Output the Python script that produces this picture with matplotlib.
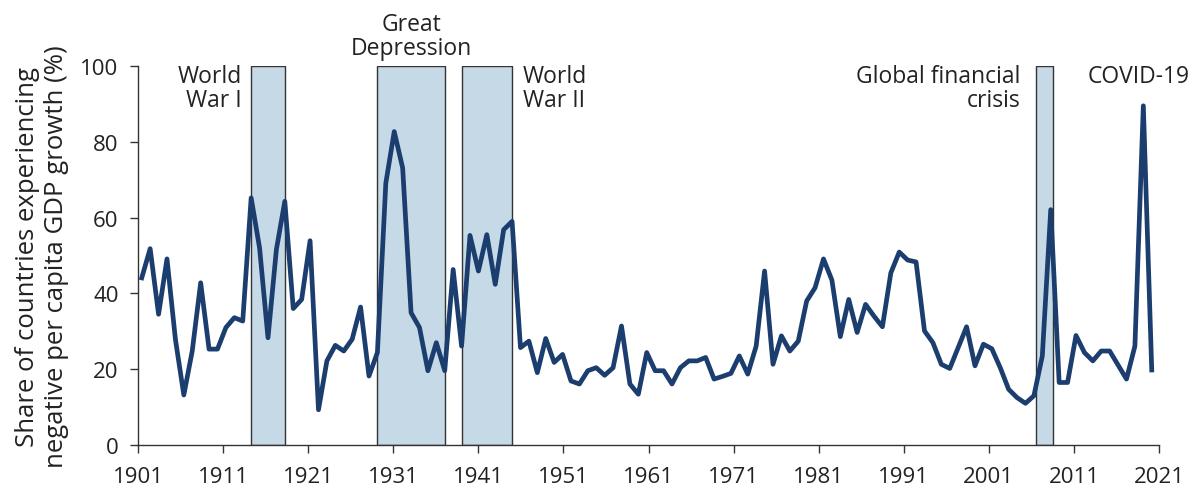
import numpy as np
import matplotlib.pyplot as plt

plt.rcParams["font.family"] = ["Open Sans", "DejaVu Sans"]

# Data: share of countries with negative per capita GDP growth (%)
years = np.arange(1901, 2022)
share = [
    44.1, 51.8, 34.5, 49.1, 27.9, 13.2, 24.8, 42.8, 25.3, 25.3,   # 1901-1910
    31.0, 33.6, 32.7, 65.2, 52.0, 28.3, 51.6, 64.3, 36.0, 38.4,   # 1911-1920
    53.9, 9.3, 22.2, 26.3, 24.8, 27.9, 36.4, 18.2, 24.4, 69.1,    # 1921-1930
    82.7, 73.1, 34.9, 31.0, 19.6, 27.0, 19.6, 46.3, 26.1, 55.3,   # 1931-1940
    45.9, 55.5, 42.4, 56.8, 59.0, 25.7, 27.4, 19.1, 28.1, 21.8,   # 1941-1950
    23.9, 16.9, 16.1, 19.6, 20.4, 18.4, 20.4, 31.4, 16.1, 13.4,   # 1951-1960
    24.4, 19.6, 19.6, 16.1, 20.4, 22.2, 22.2, 23.1, 17.4, 18.1,   # 1961-1970
    18.9, 23.5, 18.7, 26.1, 45.9, 21.3, 28.8, 24.8, 27.4, 38.0,   # 1971-1980
    41.5, 49.1, 43.5, 28.6, 38.4, 29.7, 37.1, 34.0, 31.2, 45.4,   # 1981-1990
    50.9, 48.8, 48.3, 30.1, 27.0, 21.3, 20.2, 25.7, 31.2, 20.9,   # 1991-2000
    26.6, 25.4, 20.4, 14.7, 12.5, 11.0, 13.0, 23.5, 62.1, 16.5,   # 2001-2010
    16.5, 28.9, 24.4, 22.2, 24.8, 24.8, 21.1, 17.4, 26.1, 89.5,   # 2011-2020
    19.8,                                                          # 2021
]

# Shaded episodes (start, end)
episodes = [(1914, 1918), (1929, 1937), (1939, 1945), (2007.3, 2009.3)]
tick_labels = [str(y) for y in range(1901, 2022, 10)]

line_color = "#1b3e6f"
band_color = "#c5d9e7"
ink = "#333333"

fig = plt.figure(figsize=(11.92, 4.89), dpi=100)
ax = fig.add_axes([0.1158, 0.0879, 0.8565, 0.7751])

for start, end in episodes:
    ax.axvspan(start, end, ymin=0, ymax=1, facecolor=band_color,
               edgecolor=ink, linewidth=1.0, zorder=1)

ax.plot(years, share, color=line_color, linewidth=3.4, zorder=3,
        solid_joinstyle="round")

x_lo, x_hi = 1900.56, 2021.86
ax.set_xlim(x_lo, x_hi)
ax.set_ylim(0, 100)
ax.set_xticks(np.linspace(x_lo, x_hi, len(tick_labels)))
ax.set_xticklabels(tick_labels)
ax.set_yticks(range(0, 101, 20))

for side in ["top", "right"]:
    ax.spines[side].set_visible(False)
for side in ["left", "bottom"]:
    ax.spines[side].set_color(ink)
    ax.spines[side].set_linewidth(1.0)

ax.tick_params(axis="both", length=6, width=1.0, color=ink,
               labelsize=16, labelcolor="#222222")
ax.tick_params(axis="x", pad=9)
ax.tick_params(axis="y", pad=8)

ax.set_ylabel("Share of countries experiencing\nnegative per capita GDP growth (%)",
              fontsize=18.5, color="#222222", labelpad=8, linespacing=1.2)

txt = dict(fontsize=16.5, color="#222222", linespacing=1.0)
ax.text(1912.9, 100.6, "World\nWar I", ha="right", va="top",
        multialignment="right", **txt)
ax.text(1933.0, 101.5, "Great\nDepression", ha="center", va="bottom",
        multialignment="center", clip_on=False, **txt)
ax.text(1946.3, 100.6, "World\nWar II", ha="left", va="top",
        multialignment="left", **txt)
ax.text(2005.4, 100.6, "Global financial\ncrisis", ha="right", va="top",
        multialignment="right", **txt)
ax.text(2013.4, 100.6, "COVID-19", ha="left", va="top", **txt)

fig.savefig("out.png", dpi=100)
